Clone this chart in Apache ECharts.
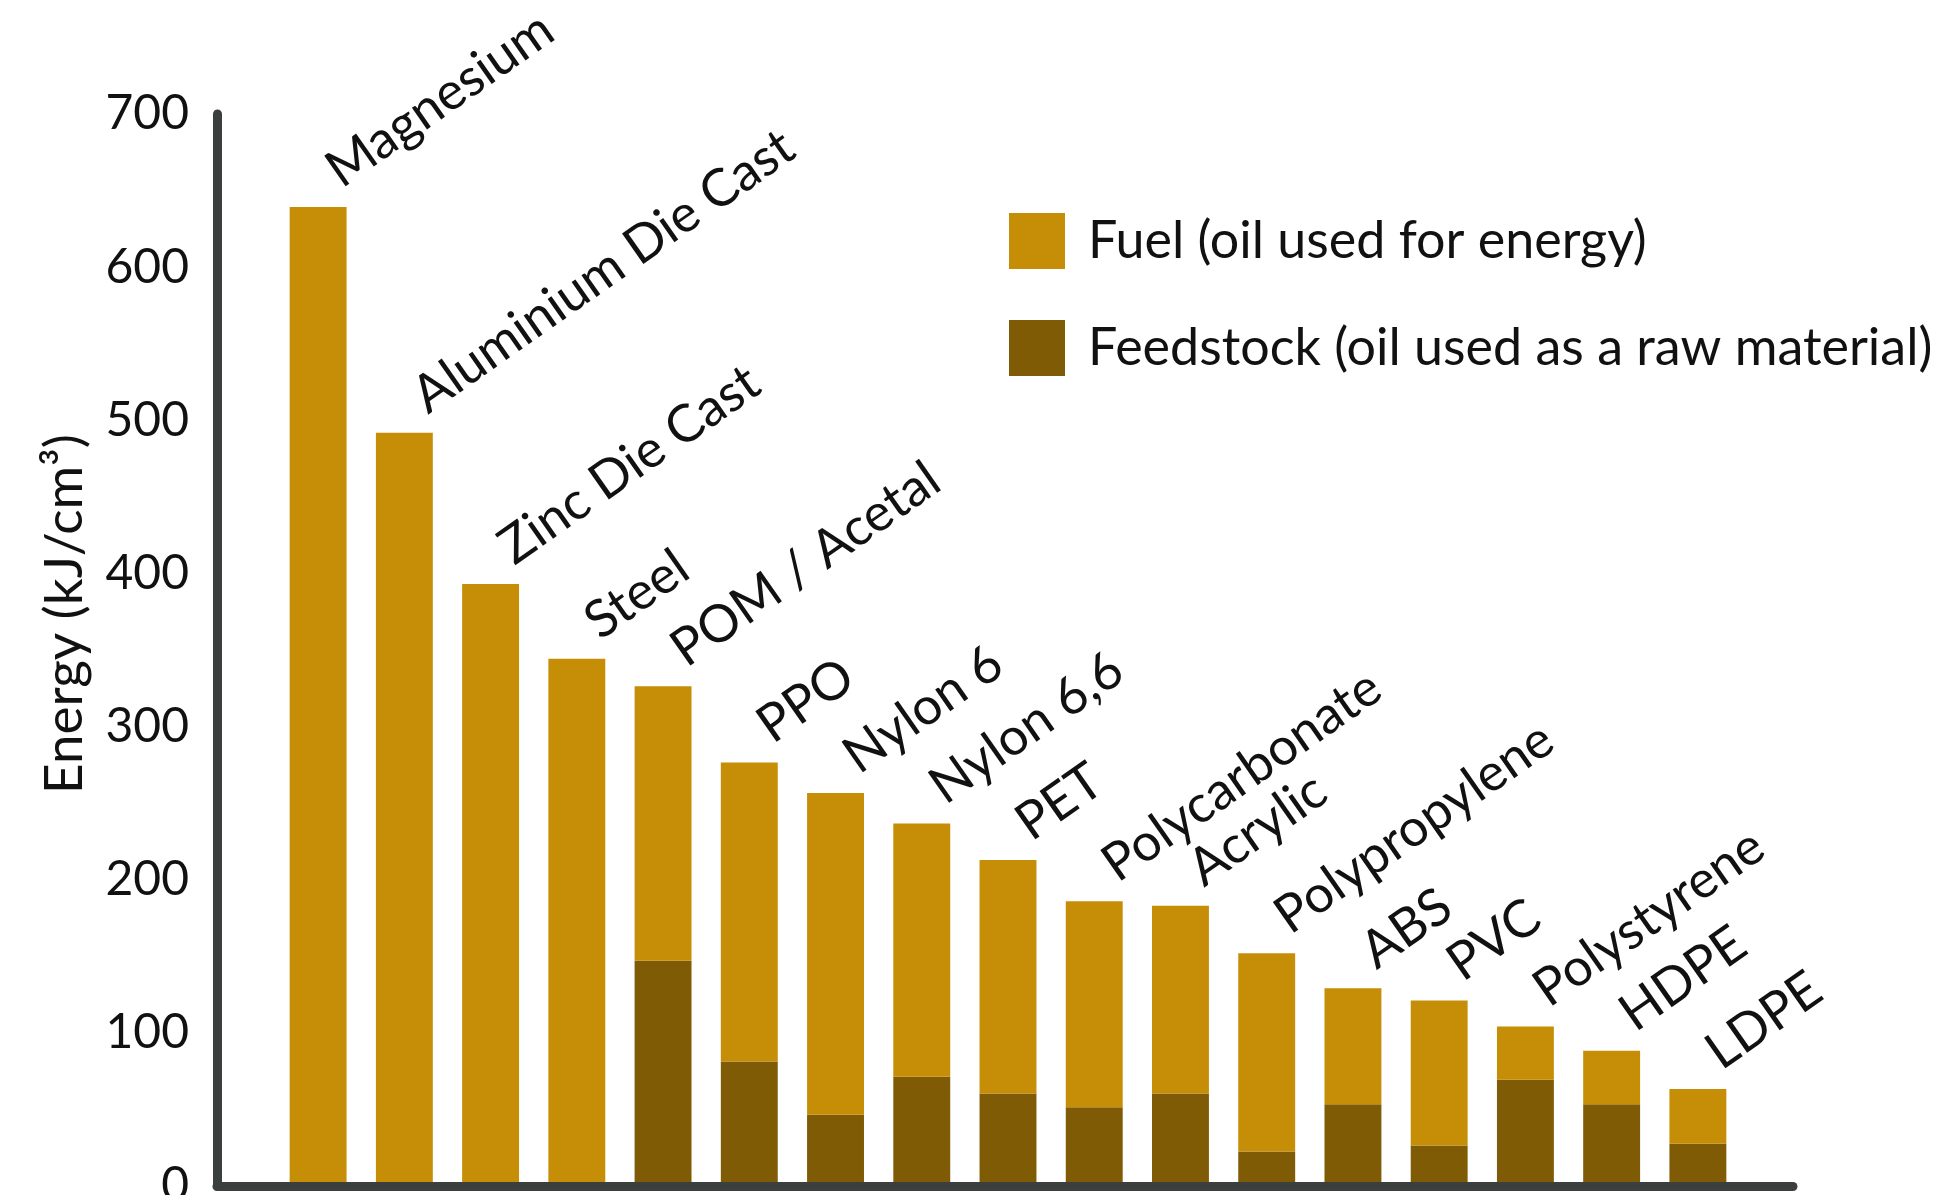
<!DOCTYPE html>
<html>
<head>
<meta charset="utf-8">
<script src="https://cdn.jsdelivr.net/npm/echarts@6/dist/echarts.min.js"></script>
<style>html,body{margin:0;padding:0;background:#fff;}#c{width:1946px;height:1195px;}</style>
</head>
<body>
<div id="c"></div>
<script>
const categories = ['Magnesium','Aluminium Die Cast','Zinc Die Cast','Steel','POM / Acetal','PPO','Nylon 6','Nylon 6,6','PET','Polycarbonate','Acrylic','Polypropylene','ABS','PVC','Polystyrene','HDPE','LDPE'];
const totalEnergy = [639, 491, 392, 343, 325, 275, 255, 235, 211, 184, 181, 150, 127, 119, 102, 86, 61];
const feedstock = [0, 0, 0, 0, 145, 79, 44, 69, 58, 49, 58, 20, 51, 24, 67, 51, 25];
const yTicks = [0, 100, 200, 300, 400, 500, 600, 700];
const fuel = totalEnergy.map((t, i) => t - feedstock[i]);

const FONT = 'Lato';
const AXIS = '#3b3f3e';
const chart = echarts.init(document.getElementById('c'));
chart.setOption({
  animation: false,
  backgroundColor: '#ffffff',
  textStyle: { fontFamily: FONT },
  grid: [
    { left: 275, width: 1466, top: 114, height: 1068, outerBoundsMode: 'none', containLabel: false },
    { left: 217, width: 1576, top: 114, height: 1072, outerBoundsMode: 'none', containLabel: false }
  ],
  legend: {
    orient: 'vertical', left: 1009, top: 213, padding: 0,
    itemWidth: 56, itemHeight: 56, itemGap: 51,
    icon: 'rect',
    textStyle: { fontFamily: FONT, fontSize: 52, lineHeight: 56, color: '#111', padding: [0, 0, 0, 18] },
    data: ['Fuel (oil used for energy)', 'Feedstock (oil used as a raw material)']
  },
  xAxis: [
    { type: 'category', gridIndex: 0, data: categories, show: false },
    { type: 'value', gridIndex: 1, min: 0, max: 1,
      axisLine: { show: true, lineStyle: { color: AXIS, width: 9 } },
      axisTick: { show: false }, axisLabel: { show: false }, splitLine: { show: false } }
  ],
  yAxis: [
    { type: 'value', gridIndex: 0, min: 0, max: 700, interval: 100, show: false, splitLine: { show: false } },
    { type: 'value', gridIndex: 1, min: yTicks[0], max: yTicks[yTicks.length - 1], interval: 100,
      axisLine: { show: true, lineStyle: { color: AXIS, width: 9 } },
      axisTick: { show: false }, splitLine: { show: false },
      axisLabel: { fontFamily: FONT, fontSize: 48, color: '#111', margin: 28, padding: [0, 0, 10, 0] },
      name: 'Energy (kJ/cm³)', nameLocation: 'middle', nameGap: 126,
      nameTextStyle: { fontFamily: FONT, fontSize: 53, color: '#111', padding: [0, 0, 0, 72] }
    }
  ],
  series: [
    { name: 'Feedstock (oil used as a raw material)', type: 'bar', stack: 'e', xAxisIndex: 0, yAxisIndex: 0,
      barWidth: '66%', data: feedstock, itemStyle: { color: '#805b05' } },
    { name: 'Fuel (oil used for energy)', type: 'bar', stack: 'e', xAxisIndex: 0, yAxisIndex: 0,
      barWidth: '66%', data: fuel, itemStyle: { color: '#c68e07' },
      label: { show: true, position: 'top', distance: 22, rotate: 35, align: 'left', verticalAlign: 'middle',
        offset: [17, 0], formatter: '{b}', fontFamily: FONT, fontSize: 52, color: '#111' } }
  ]
});
</script>
</body>
</html>
